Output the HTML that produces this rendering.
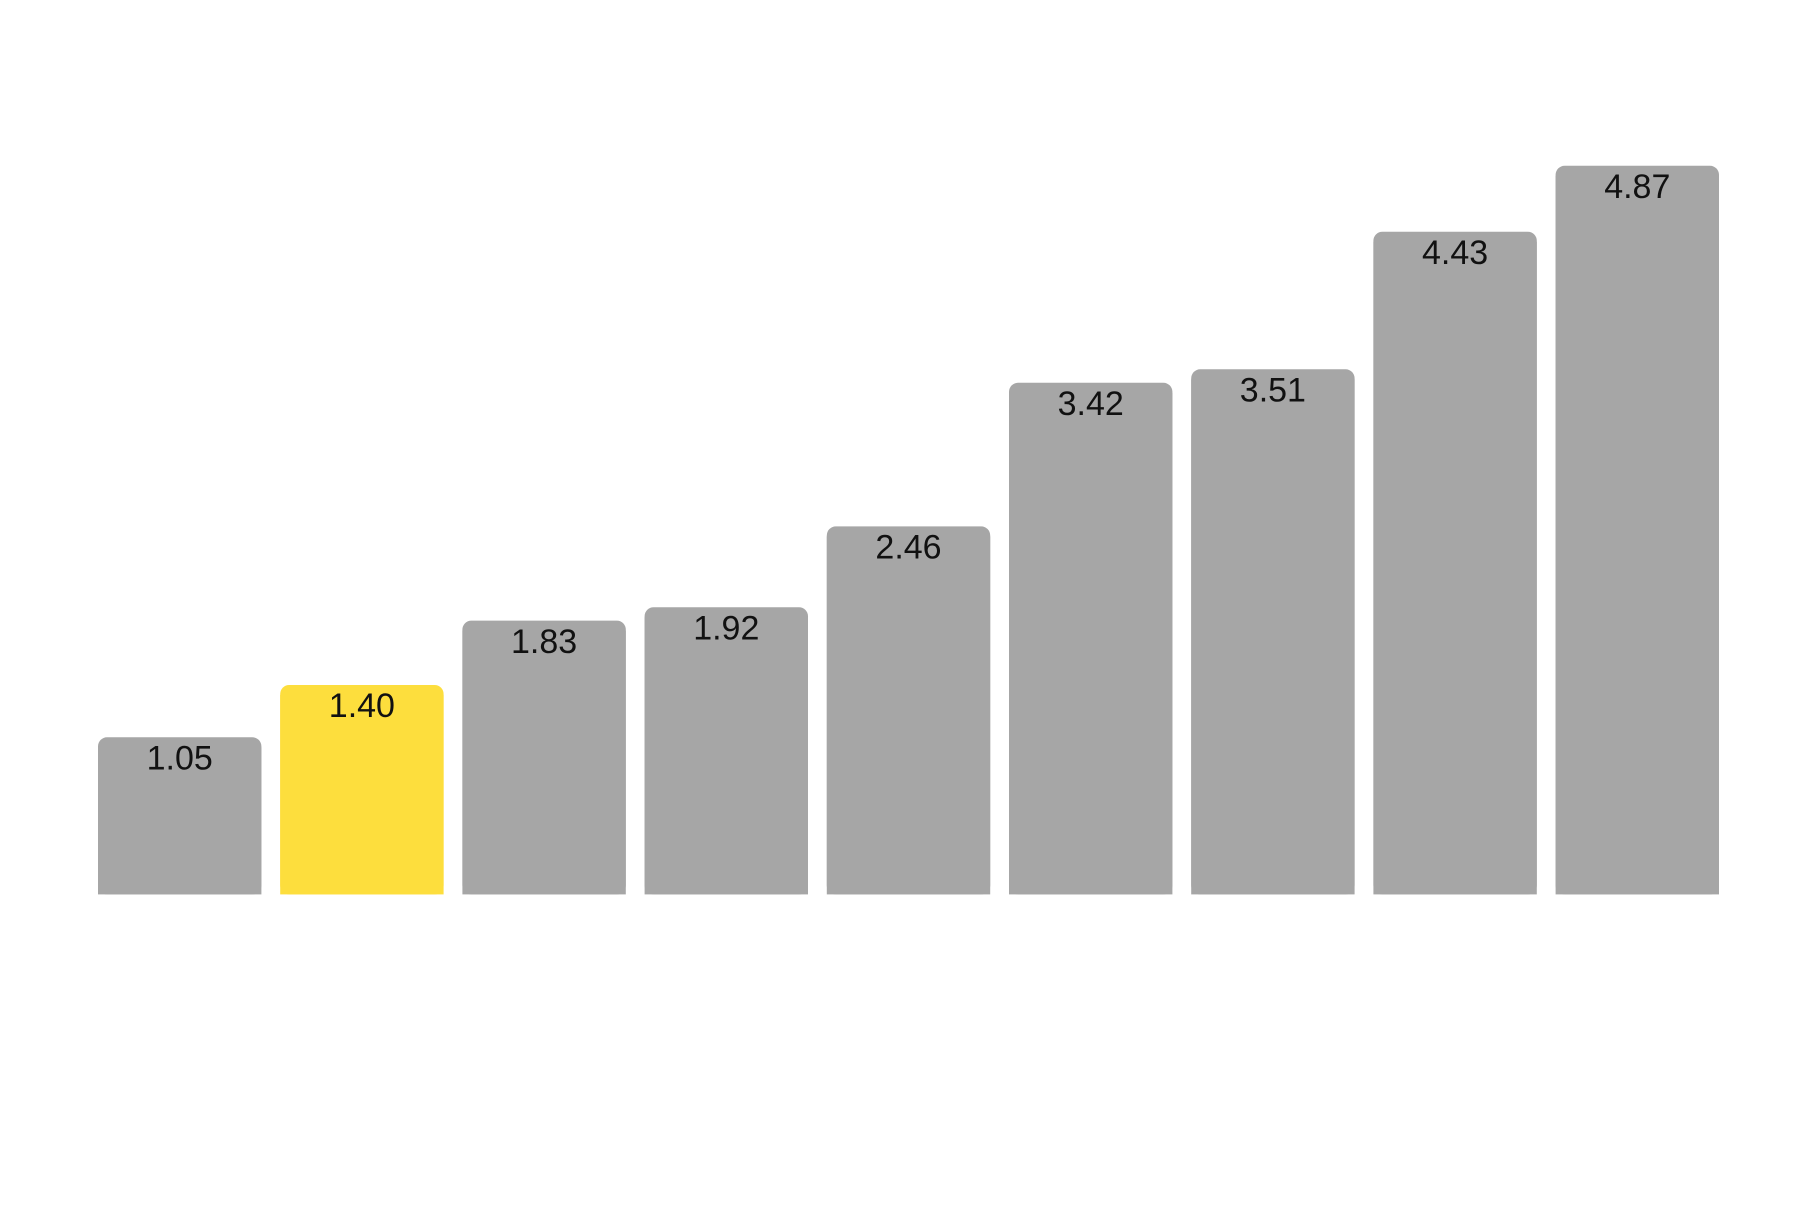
<!DOCTYPE html><html><head><style>body{margin:0;background:#fff}</style></head><body>
<svg width="1800" height="1200" xmlns="http://www.w3.org/2000/svg" font-family="Liberation Sans, sans-serif" font-size="34" text-anchor="middle">
<g fill="#a6a6a6">
<rect x="98" y="737.3" width="163.4" height="157.1" rx="9"/><rect x="98" y="747.3" width="163.4" height="147.1"/>
<rect x="462.4" y="620.6" width="163.4" height="273.8" rx="9"/><rect x="462.4" y="630.6" width="163.4" height="263.8"/>
<rect x="644.6" y="607.2" width="163.4" height="287.2" rx="9"/><rect x="644.6" y="617.2" width="163.4" height="277.2"/>
<rect x="826.8" y="526.4" width="163.4" height="368" rx="9"/><rect x="826.8" y="536.4" width="163.4" height="358"/>
<rect x="1009" y="382.8" width="163.4" height="511.6" rx="9"/><rect x="1009" y="392.8" width="163.4" height="501.6"/>
<rect x="1191.2" y="369.3" width="163.4" height="525.1" rx="9"/><rect x="1191.2" y="379.3" width="163.4" height="515.1"/>
<rect x="1373.4" y="231.7" width="163.4" height="662.7" rx="9"/><rect x="1373.4" y="241.7" width="163.4" height="652.7"/>
<rect x="1555.6" y="165.8" width="163.4" height="728.6" rx="9"/><rect x="1555.6" y="175.8" width="163.4" height="718.6"/>
</g>
<g fill="#fdde3d">
<rect x="280.2" y="685" width="163.4" height="209.4" rx="9"/><rect x="280.2" y="695" width="163.4" height="199.4"/>
</g>
<g fill="#111">
<text x="179.7" y="769.5">1.05</text>
<text x="361.9" y="717.2">1.40</text>
<text x="544.1" y="652.8">1.83</text>
<text x="726.3" y="639.4">1.92</text>
<text x="908.5" y="558.6">2.46</text>
<text x="1090.7" y="415">3.42</text>
<text x="1272.9" y="401.5">3.51</text>
<text x="1455.1" y="263.9">4.43</text>
<text x="1637.3" y="198">4.87</text>
</g>
</svg></body></html>
